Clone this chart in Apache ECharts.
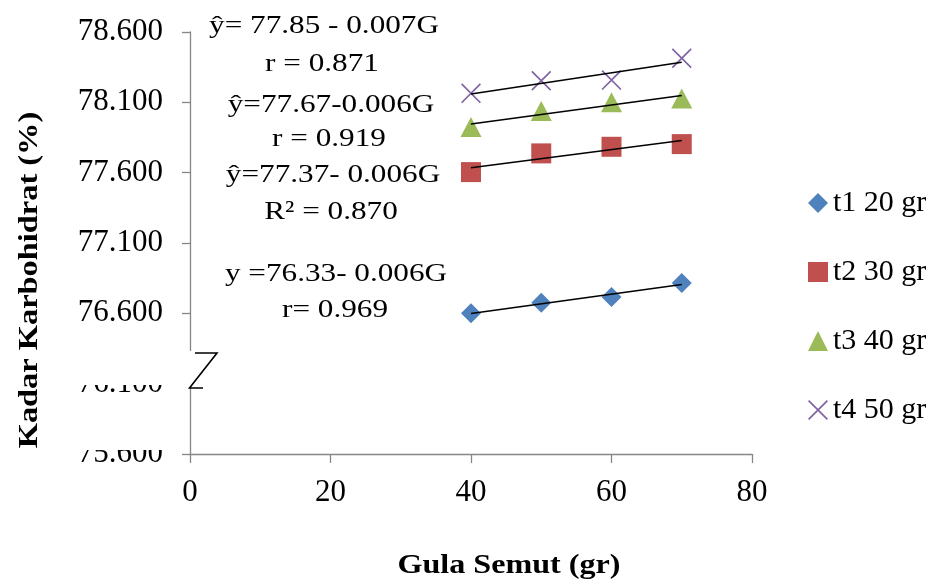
<!DOCTYPE html>
<html>
<head>
<meta charset="utf-8">
<script src="https://cdn.jsdelivr.net/npm/echarts@6/dist/echarts.min.js"></script>
<style>
html,body{margin:0;padding:0;background:#fff;}
#chart{width:933px;height:583px;}
</style>
</head>
<body>
<div id="chart"></div>
<script>
// ---- data ----
const gula = [40, 50, 60, 70];
const t1 = [76.600, 76.676, 76.716, 76.816];
const t2 = [77.604, 77.737, 77.784, 77.803];
const t3 = [77.924, 78.038, 78.100, 78.128];
const t4 = [78.164, 78.253, 78.258, 78.413];
const seriesNames = ['t1 20 gr', 't2 30 gr', 't3 40 gr', 't4 50 gr'];
const yTicks = [75.6, 76.1, 76.6, 77.1, 77.6, 78.1, 78.6];
const xTicks = [0, 20, 40, 60, 80];
const annotations = [
  'ŷ= 77.85 - 0.007G', 'r = 0.871',
  'ŷ=77.67-0.006G', 'r = 0.919',
  'ŷ=77.37- 0.006G', 'R² = 0.870',
  'y =76.33- 0.006G', 'r= 0.969'
];
const xTitle = 'Gula Semut (gr)';
const yTitle = 'Kadar Karbohidrat (%)';

// ---- helpers ----
function pairs(xs, ys) { return xs.map((x, i) => [x, ys[i]]); }
function trend(xs, ys) {
  const n = xs.length;
  const mx = xs.reduce((a, b) => a + b, 0) / n;
  const my = ys.reduce((a, b) => a + b, 0) / n;
  let sxy = 0, sxx = 0;
  for (let i = 0; i < n; i++) { sxy += (xs[i] - mx) * (ys[i] - my); sxx += (xs[i] - mx) ** 2; }
  const b = sxy / sxx, a = my - b * mx;
  const x0 = Math.min(...xs), x1 = Math.max(...xs);
  return [[x0, a + b * x0], [x1, a + b * x1]];
}

const SERIF = '"Liberation Serif", "Times New Roman", serif';
const colors = ['#4F81BD', '#C0504D', '#9BBB59', '#8064A2'];
const xPath = 'path://M0,1.2L1.2,0L20,18.8L18.8,20Z M18.8,0L20,1.2L1.2,20L0,18.8Z';
const symbols = ['diamond', 'rect', 'triangle', xPath];
const sizes = [20, 20, [21, 20], 20];
const allY = [t1, t2, t3, t4];

const series = [];
allY.forEach((ys, i) => {
  series.push({
    name: seriesNames[i], type: 'scatter', data: pairs(gula, ys),
    symbol: symbols[i], symbolSize: sizes[i],
    itemStyle: { color: colors[i], opacity: 1 }, z: 2, silent: true
  });
});
allY.forEach((ys, i) => {
  series.push({
    name: 'trend' + (i + 1), type: 'line', data: trend(gula, ys),
    symbol: 'none', lineStyle: { color: '#000', width: 1.5 }, z: 5, silent: true
  });
});

// annotation positions
const annPos = [[324, 26], [322, 64], [331, 105], [329, 139.5], [333, 175.5], [331, 212.5], [336, 274], [335, 310.5]];

const graphics = [];
annotations.forEach((t, i) => {
  graphics.push({
    type: 'text', x: annPos[i][0], y: annPos[i][1], scaleX: 1.2, z: 50,
    style: { text: t, fill: '#000', font: '26px ' + SERIF, textAlign: 'center', textVerticalAlign: 'middle' }
  });
});
// axis titles
graphics.push({
  type: 'text', x: 509, y: 566, scaleX: 1.19, z: 50,
  style: { text: xTitle, fill: '#000', font: 'bold 27px ' + SERIF, textAlign: 'center', textVerticalAlign: 'middle' }
});
graphics.push({
  type: 'text', x: 30, y: 280, rotation: Math.PI / 2, scaleX: 1.2, z: 50,
  style: { text: yTitle, fill: '#000', font: 'bold 27px ' + SERIF, textAlign: 'center', textVerticalAlign: 'middle' }
});
// axis break covers
graphics.push({ type: 'rect', z: 100, shape: { x: 60, y: 351, width: 133, height: 34 }, style: { fill: '#fff' } });
graphics.push({ type: 'rect', z: 100, shape: { x: 186, y: 384, width: 7, height: 4 }, style: { fill: '#fff' } });
graphics.push({ type: 'rect', z: 100, shape: { x: 60, y: 394, width: 122, height: 56 }, style: { fill: '#fff' } });
graphics.push({
  type: 'polyline', z: 101,
  shape: { points: [[195, 353], [217, 353], [189.5, 388], [203, 388]] },
  style: { stroke: '#000', lineWidth: 1.6, fill: null }
});

const axisGray = '#868686';
const chart = echarts.init(document.getElementById('chart'));
chart.setOption({
  animation: false,
  backgroundColor: '#fff',
  grid: { left: 190, right: 181, top: 32, bottom: 129, containLabel: false },
  xAxis: {
    type: 'value', min: xTicks[0], max: xTicks[xTicks.length - 1], interval: 20,
    axisLine: { show: true, onZero: false, lineStyle: { color: axisGray, width: 1.3 } },
    axisTick: { show: true, length: 9, lineStyle: { color: axisGray, width: 1.3 } },
    splitLine: { show: false },
    axisLabel: { margin: 23, color: '#000', fontFamily: SERIF, fontSize: 31 }
  },
  yAxis: {
    type: 'value', min: yTicks[0], max: yTicks[yTicks.length - 1],
    axisLine: { show: true, onZero: false, lineStyle: { color: axisGray, width: 1.3 } },
    axisTick: { show: true, length: 8, customValues: yTicks, lineStyle: { color: axisGray, width: 1.3 } },
    splitLine: { show: false },
    axisLabel: {
      customValues: yTicks, margin: 27, color: '#000', fontFamily: SERIF, fontSize: 31,
      formatter: v => Number(v).toFixed(3)
    }
  },
  legend: {
    orient: 'vertical', left: 803, top: 183, itemWidth: 20, itemHeight: 20, itemGap: 39,
    selectedMode: false,
    textStyle: { color: '#000', fontFamily: SERIF, fontSize: 30 },
    data: seriesNames.map((n, i) => ({ name: n, icon: symbols[i] }))
  },
  series: series,
  graphic: graphics
});
</script>
</body>
</html>
